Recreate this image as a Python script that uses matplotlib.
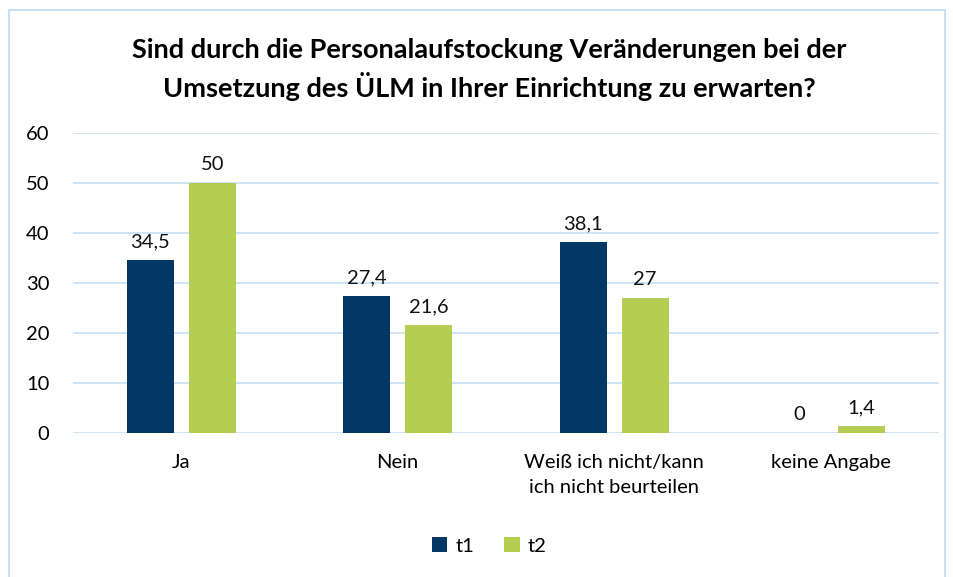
import matplotlib
matplotlib.use("Agg")
import matplotlib.pyplot as plt
from matplotlib.patches import Rectangle
import numpy as np

categories = ["Ja", "Nein", "Weiß ich nicht/kann\nich nicht beurteilen", "keine Angabe"]
t1 = [34.5, 27.4, 38.1, 0]
t2 = [50, 21.6, 27, 1.4]
series_names = ["t1", "t2"]
yticks = [0, 10, 20, 30, 40, 50, 60]

c1 = "#033766"
c2 = "#b5cd52"
grid_c = "#c5e0f7"

plt.rcParams['font.family'] = ['Lato', 'DejaVu Sans']

fig = plt.figure(figsize=(9.54, 5.77), dpi=100)
ax = fig.add_axes([0.0765, 0.2496, 0.9075, 0.52])

x = np.arange(len(categories))
w = 0.217
off = 0.143
b1 = ax.bar(x - off, t1, w, color=c1, label=series_names[0], zorder=3)
b2 = ax.bar(x + off, t2, w, color=c2, label=series_names[1], zorder=3)

def fmt(v):
    s = f"{v:g}"
    return s.replace(".", ",")

for bars, vals in [(b1, t1), (b2, t2)]:
    for r, v in zip(bars, vals):
        ax.text(r.get_x() + r.get_width() / 2, v + 2.0, fmt(v),
                ha="center", va="bottom", fontsize=14.5, color="#111111")

ax.set_xlim(-0.5, len(categories) - 0.5)
ax.set_ylim(0, 60)
ax.set_yticks(yticks)
ax.set_xticks(x)
ax.set_xticklabels(categories, fontsize=14.5, linespacing=1.6)
ax.tick_params(axis="y", labelsize=14.5, length=0, pad=17)
ax.tick_params(axis="x", length=0, pad=15)
ax.grid(axis="y", color=grid_c, linewidth=1.2, zorder=0)
for s in ax.spines.values():
    s.set_visible(False)

fig.text(0.513, 0.88, "Sind durch die Personalaufstockung Veränderungen bei der\nUmsetzung des ÜLM in Ihrer Einrichtung zu erwarten?",
         ha="center", va="center", fontsize=19.5, fontweight="bold",
         linespacing=1.4)

fig.legend(handles=[b1, b2], labels=series_names, loc="center",
           bbox_to_anchor=(0.513, 0.054), ncol=2, frameon=False,
           fontsize=14.5, handlelength=0.75, handleheight=0.75,
           handletextpad=0.4, columnspacing=1.5)

fig.patches.append(Rectangle((0.009, -0.05), 0.982, 1.033,
                             transform=fig.transFigure, fill=False,
                             edgecolor=grid_c, linewidth=1.5))

fig.savefig("out.png", dpi=100)
